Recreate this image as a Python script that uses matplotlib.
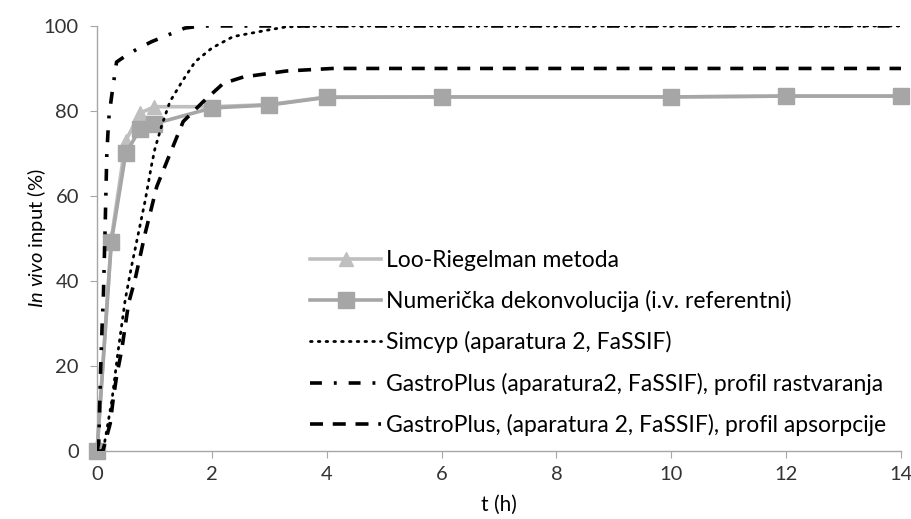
import matplotlib
matplotlib.use("Agg")
import matplotlib.pyplot as plt

plt.rcParams.update({
    'font.family': ['Lato', 'DejaVu Sans'],
    'mathtext.fontset': 'custom',
    'mathtext.rm': 'Lato',
    'mathtext.it': 'Lato:italic',
    'font.size': 14,
})

# Loo-Riegelman
lr_t = [0, 0.25, 0.5, 0.75, 1, 2, 3, 4, 6, 10, 12, 14]
lr_y = [0, 50, 73, 79.5, 81, 81, 81.5, 83.3, 83.3, 83.3, 83.5, 83.5]

# numerical deconvolution (i.v. reference)
nd_t = [0, 0.25, 0.5, 0.75, 1, 2, 3, 4, 6, 10, 12, 14]
nd_y = [0, 49.2, 70, 75.8, 77, 80.7, 81.4, 83.2, 83.3, 83.3, 83.5, 83.5]

# Simcyp simulation
sc_t = [0, 0.1, 0.14, 0.26, 0.37, 0.49, 0.6, 0.72, 0.84, 0.95, 1.01, 1.13, 1.27,
        1.48, 1.71, 2.0, 2.37, 2.96, 3.3, 4, 6, 8, 10, 12, 14]
sc_y = [0, 0, 2.6, 12, 23.8, 35.5, 43.4, 51.2, 59, 67.3, 71.2, 76.7, 82.2,
        86.9, 91.6, 94.8, 97.5, 99, 99.8, 100, 100, 100, 100, 100, 100]

# GastroPlus dissolution profile
gd_t = [0, 0.03, 0.06, 0.09, 0.11, 0.14, 0.17, 0.19, 0.21, 0.26, 0.34, 0.5,
        0.69, 0.95, 1.24, 1.53, 1.82, 4, 6, 8, 10, 12, 14]
gd_y = [0, 2, 18, 30, 36, 52, 69.6, 74.8, 79, 84, 91.5, 93,
        94.5, 96.3, 97.9, 99.5, 100, 100, 100, 100, 100, 100, 100]

# GastroPlus absorption profile
ga_t = [0, 0.1, 0.14, 0.23, 0.28, 0.34, 0.43, 0.49, 0.55, 0.66, 0.84, 1.04,
        1.24, 1.5, 1.85, 2.2, 2.55, 3.3, 4.1, 6, 8, 10, 12, 14]
ga_y = [0, 0, 1.9, 6.5, 12, 17.5, 23.8, 29.3, 34.8, 40.2, 51.3, 62.2,
        68.9, 77.5, 82.2, 86.5, 88, 89.4, 90, 90, 90, 90, 90, 90]

fig = plt.figure(figsize=(9.11, 5.19), dpi=100)
ax = fig.add_axes([0.1065, 0.131, 0.8825, 0.819])

ax.plot(lr_t, lr_y, color='#BFBFBF', lw=2.6, marker='^', ms=10,
        mec='#BFBFBF', mfc='#BFBFBF', clip_on=False, zorder=3,
        label='Loo-Riegelman metoda')
ax.plot(nd_t, nd_y, color='#A6A6A6', lw=2.6, marker='s', ms=11,
        mec='#A6A6A6', mfc='#A6A6A6', clip_on=False, zorder=4,
        label='Numerička dekonvolucija (i.v. referentni)')
ax.plot(sc_t, sc_y, color='black', lw=2.0, ls=(0, (0.6, 2.2)),
        dash_capstyle='round', zorder=5, label='Simcyp (aparatura 2, FaSSIF)')
ax.plot(gd_t, gd_y, color='black', lw=2.6, ls=(0, (3.3, 3.3, 0.8, 3.3)),
        zorder=5, label='GastroPlus (aparatura2, FaSSIF), profil rastvaranja')
ax.plot(ga_t, ga_y, color='black', lw=2.6, ls=(0, (3.6, 2.7)),
        zorder=5, label='GastroPlus, (aparatura 2, FaSSIF), profil apsorpcije')

ax.set_xlim(0, 14)
ax.set_ylim(0, 100)
ax.set_xticks(range(0, 15, 2))
ax.set_yticks(range(0, 101, 20))
ax.set_xlabel('t (h)', fontsize=15, labelpad=8)
ax.set_ylabel(r'$\it{In\ vivo}$ input (%)', fontsize=14.5, labelpad=-3)

for s in ('top', 'right'):
    ax.spines[s].set_visible(False)
for s in ('left', 'bottom'):
    ax.spines[s].set_color('#A6A6A6')
    ax.spines[s].set_linewidth(1.0)
ax.tick_params(axis='both', direction='out', length=5, color='#A6A6A6',
               labelsize=14.5, labelcolor='#333333')
ax.tick_params(axis='x', pad=6)
ax.tick_params(axis='y', pad=8)

ax.legend(loc='lower right', bbox_to_anchor=(1.0, 0.0), frameon=False,
          fontsize=16.5, labelspacing=0.84, handlelength=3.1, handletextpad=0.2,
          borderaxespad=0.05, borderpad=0.6)

fig.savefig('out.png', dpi=100)
